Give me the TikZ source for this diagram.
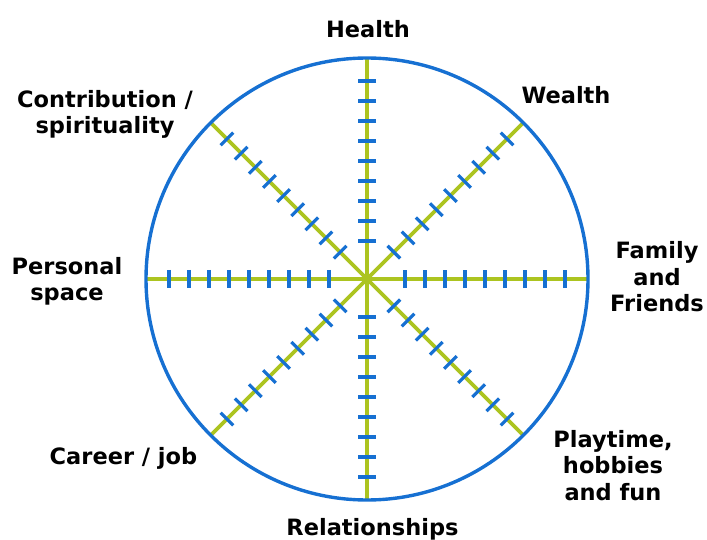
\documentclass[tikz,border=0pt]{standalone}
\usepackage{fontspec}
\setmainfont{DejaVu Sans}
\usetikzlibrary{positioning,calc}

\definecolor{wheelblue}{RGB}{22,112,210}
\definecolor{wheelgreen}{RGB}{172,196,32}

\tikzset{
	rim/.style={draw=wheelblue, line width=3.4pt},
	spoke/.style={draw=wheelgreen, line width=3.8pt},
	notch/.style={draw=wheelblue, line width=3.2pt},
	area/.style={font=\bfseries\fontsize{22.5}{26.5}\selectfont, align=center, inner sep=0pt, anchor=base},
}

\begin{document}
\begin{tikzpicture}[x=1pt, y=-1pt]
	\useasboundingbox (0,0) rectangle (707,540);
	
	\coordinate (hub) at (367,279);
	\foreach \a in {0,45,...,315} {
		\coordinate (rim\a) at ($(hub)+(\a:221)$);
		\draw[spoke] (hub) -- (rim\a);
		\foreach \d in {38,58,...,198} {
			\coordinate (n) at ($(hub)+(\a:\d)$);
			\draw[notch] ($(n)+(\a+90:9)$) -- ($(n)+(\a-90:9)$);
		}
	}
	\draw[rim] (hub) circle[radius=221pt];
	
	% last line of each label sits on its base
	\node[area] (health) at (368,37.5) {Health};
	\node[area] (wealth) at (566,104) {Wealth};
	\node[area] (family) at (657,311.5) {Family\\and\\Friends};
	\node[area] (play) at (613,500) {Playtime,\\hobbies\\and fun};
	\node[area] (relations) at (372.5,535) {Relationships};
	\node[area] (career) at (123.5,464) {Career / job};
	\node[area] (personal) at (67,300.5) {Personal\\space};
	\node[area] (spirit) at (105,134) {Contribution /\\spirituality};
\end{tikzpicture}
\end{document}
